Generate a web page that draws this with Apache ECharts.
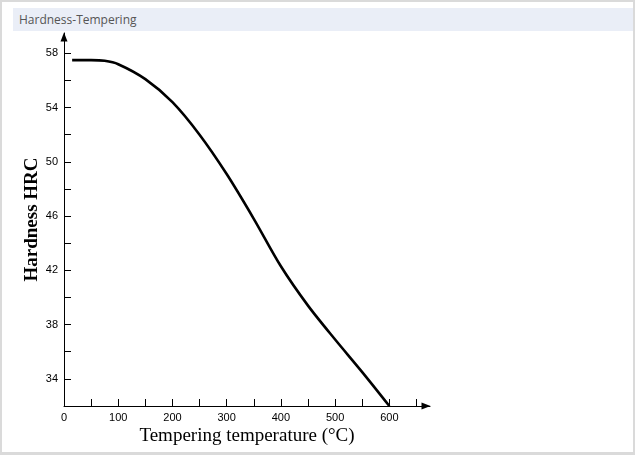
<!DOCTYPE html>
<html>
<head>
<meta charset="utf-8">
<title>Hardness-Tempering</title>
<script src="https://cdn.jsdelivr.net/npm/echarts@6/dist/echarts.min.js"></script>
<style>
  html, body { margin: 0; padding: 0; background: #fff; }
  #frame {
    position: relative;
    width: 635px; height: 455px;
    box-sizing: border-box;
    border: 2px solid #dadada;
    border-bottom-width: 3px;
    background: #fff;
    overflow: hidden;
  }
  #bar {
    position: absolute;
    left: 11px; right: 0; top: 6px; height: 23px;
    background: #eaeef7;
    color: #555;
    font: 12px "Open Sans", sans-serif;
    line-height: 23px;
    padding-left: 6px;
  }
  #chart { position: absolute; left: -2px; top: -2px; width: 635px; height: 455px; }
</style>
</head>
<body>
<div id="frame">
  <div id="bar">Hardness-Tempering</div>
  <div id="chart"></div>
</div>
<script>
// tempering temperature (°C) vs hardness (HRC)
var temps = [15, 50, 75, 100, 150, 200, 250, 300, 350, 400, 450, 500, 550, 600];
var hardness = [57.5, 57.5, 57.45, 57.2, 56.1, 54.4, 52.0, 49.1, 45.8, 42.3, 39.4, 36.9, 34.5, 32];

var xTicks = [50, 100, 150, 200, 250, 300, 350, 400, 450, 500, 550, 600, 650];
var xLabels = [0, 100, 200, 300, 400, 500, 600];
var yTicks = [34, 36, 38, 40, 42, 44, 46, 48, 50, 52, 54, 56, 58];
var yLabels = [34, 38, 42, 46, 50, 54, 58];

var tickFont = { color: '#000', fontSize: 11, fontFamily: 'Liberation Sans' };
var axisLine = {
  show: true,
  symbol: ['none', 'triangle'],
  symbolSize: [7, 9],
  symbolOffset: [0, -4],
  lineStyle: { color: '#000', width: 1 }
};

var points = temps.map(function (t, i) { return [t, hardness[i]]; });

var option = {
  animation: false,
  grid: { left: 64, right: 205, top: 33, bottom: 49 },
  xAxis: {
    type: 'value',
    min: 0,
    max: 675,
    name: 'Tempering temperature (°C)',
    nameLocation: 'middle',
    nameGap: 21,
    nameMoveOverlap: false,
    nameTextStyle: { color: '#000', fontSize: 19, fontFamily: 'Liberation Serif' },
    axisLine: axisLine,
    axisTick: { show: true, inside: true, length: 7, customValues: xTicks, lineStyle: { color: '#000' } },
    axisLabel: Object.assign({ margin: 6, customValues: xLabels }, tickFont),
    splitLine: { show: false }
  },
  yAxis: {
    type: 'value',
    min: 32,
    max: 59.5,
    name: 'Hardness HRC',
    nameLocation: 'middle',
    nameGap: 22,
    nameMoveOverlap: false,
    nameTextStyle: { color: '#000', fontSize: 19, fontWeight: 'bold', fontFamily: 'Liberation Serif' },
    axisLine: axisLine,
    axisTick: { show: true, inside: true, length: 7, customValues: yTicks, lineStyle: { color: '#000' } },
    axisLabel: Object.assign({ margin: 6, customValues: yLabels }, tickFont),
    splitLine: { show: false }
  },
  series: [{
    type: 'line',
    data: points,
    smooth: 0.3,
    showSymbol: false,
    lineStyle: { color: '#000', width: 2.6 }
  }]
};

var chart = echarts.init(document.getElementById('chart'));
chart.setOption(option);
</script>
</body>
</html>
